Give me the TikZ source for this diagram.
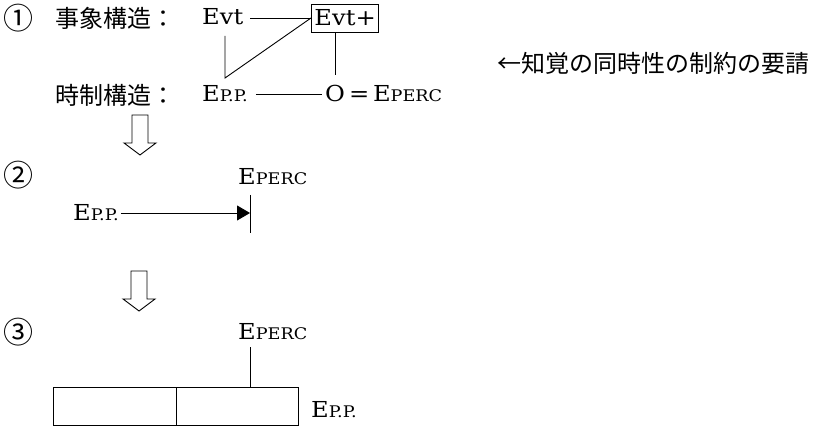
\documentclass[tikz,border=0pt]{standalone}
\usepackage{fontspec}
\setmainfont{DejaVu Serif}[FakeStretch=1.1]
\newfontfamily\jpfont{Noto Sans CJK JP}
\usetikzlibrary{arrows.meta}
\newcommand\latinsize{\fontsize{22pt}{22pt}\selectfont}
\newcommand\scsize{\fontsize{16pt}{16pt}\selectfont}
\newcommand\Eperc{E{\scsize PERC}}
\newcommand\Epp{E{\scsize P.P.}}

\begin{document}
\begin{tikzpicture}[x=1pt,y=-1pt,
  jp/.style={font=\jpfont\fontsize{24pt}{24pt}\selectfont, inner sep=0pt},
  num/.style={font=\jpfont\fontsize{30pt}{30pt}\selectfont, inner sep=0pt},
  lat/.style={font=\latinsize, inner sep=0pt},
  link/.style={line width=0.9pt},
  cell/.style={draw, line width=0.9pt, minimum height=38pt, inner sep=0pt, anchor=north west},
  hollowdown/.pic={\draw[line width=0.9pt, fill=white, line join=miter]
    (-8,0) -- (8,0) -- (8,28) -- (16,28) -- (0,40) -- (-16,28) -- (-8,28) -- cycle;}]
\useasboundingbox (0,0) rectangle (819,427);

% (1) event structure and tense structure
\node[num] (n1) at (18,18) {①};
\node[jp, anchor=west] (evs) at (55,18) {事象構造：};
\node[lat, anchor=base west] (evt) at (202,25) {Evt};
\node[lat, draw, line width=0.9pt, minimum width=65pt, minimum height=28pt, inner xsep=3pt, anchor=west] (evtp) at (311,18) {Evt+};
\node[jp, anchor=west] (tns) at (55,95) {時制構造：};
\node[lat, anchor=base west] (epp1) at (202,102) {\Epp};
\node[lat, anchor=base west] (o) at (325,102) {O};
\node[lat, anchor=base west] (eq) at (o.base east) {\,{=}\,\Eperc};
\node[jp, anchor=west] (req) at (497,63) {←知覚の同時性の制約の要請};

\coordinate (evtdown) at (225,36);
\coordinate (corner) at (225,78);
\draw[link, shorten <=7pt] (evt.east |- evtp.west) -- (evtp.west);
\draw[link] (evtdown) -- (corner) -- (evtp.west);
\draw[link, shorten >=10pt] (evtp.south -| o.north) -- (o.north);
\draw[link, shorten <=8pt, shorten >=3pt] (epp1.east) -- (epp1.east -| o.west);

\pic at (140,115) {hollowdown};

% (2)
\node[num] (n2) at (18,175) {②};
\node[lat, anchor=base west] (eperc2) at (238,185) {\Eperc};
\node[lat, anchor=base west] (epp2) at (73,221) {\Epp};
\coordinate (bartop) at (250,195);
\coordinate (barmid) at (250,213);
\coordinate (barbot) at (250,233);
\draw[link] (bartop) -- (barbot);
\draw[link, shorten <=2pt, -{Triangle[length=13pt,width=15pt]}] (epp2.east |- barmid) -- (barmid);

\pic at (139,271) {hollowdown};

% (3)
\node[num] (n3) at (18,332) {③};
\node[lat, anchor=base west] (eperc3) at (238,340) {\Eperc};
\node[cell, minimum width=123pt] (cl) at (53,387) {};
\node[cell, minimum width=122pt] (cr) at (176,387) {};
\coordinate (tick) at (250,387);
\draw[link, shorten <=7pt] (eperc3.south -| tick) -- (tick);
\node[lat, anchor=base west] (epp3) at (311,417) {\Epp};
\end{tikzpicture}
\end{document}
